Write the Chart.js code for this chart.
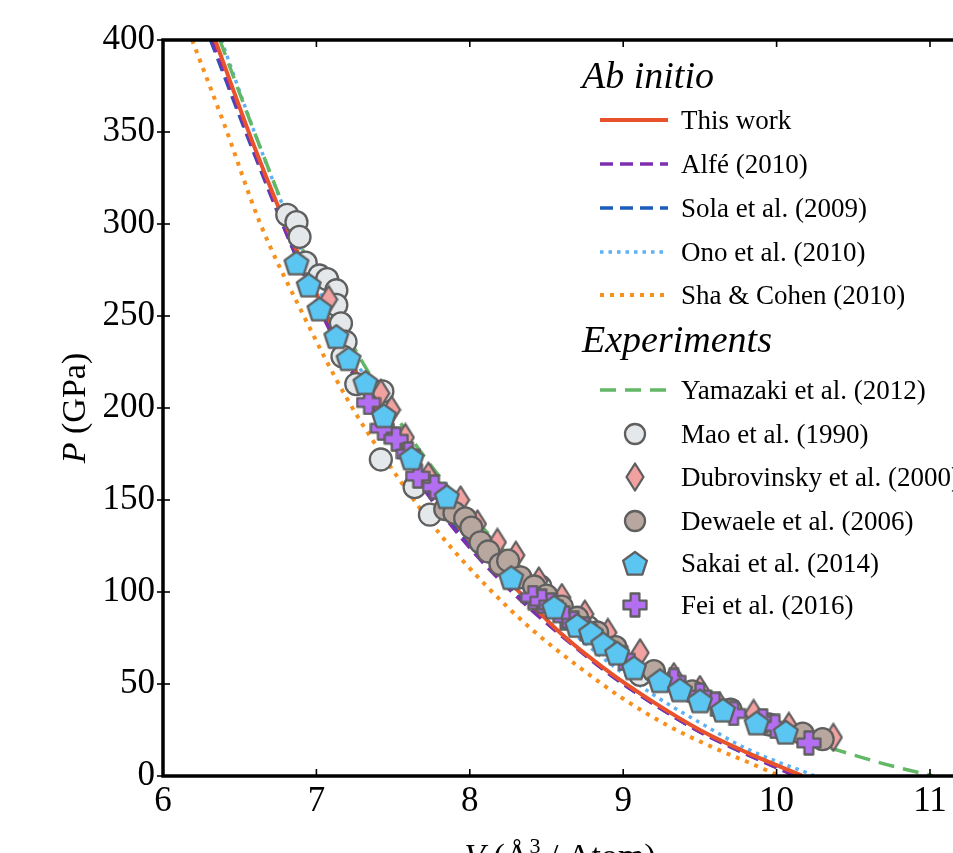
<!DOCTYPE html>
<html>
<head>
<meta charset="utf-8">
<script src="https://cdn.jsdelivr.net/npm/chart.js@4.4.1/dist/chart.umd.min.js"></script>
<style>
  html, body { margin: 0; padding: 0; background: #fff; }
  #frame { width: 953px; height: 853px; overflow: hidden; position: relative; }
  #box { width: 1020px; height: 880px; position: absolute; left: 0; top: 0; }
</style>
</head>
<body>
<div id="frame"><div id="box"><canvas id="c"></canvas></div></div>
<script>
const serif = "'Liberation Serif', 'Times New Roman', serif";

// --- ab initio curves: V (Å^3/atom), P (GPa)
const thisWorkV = [6.34, 6.6, 6.86, 7.1, 7.4, 7.7, 8.0, 8.3, 8.6, 8.9, 9.2, 9.5, 9.8, 10.17];
const thisWorkP = [400, 341, 288, 245, 199, 161, 128, 102, 77, 57, 40, 25, 13, 0];

const alfeV = [6.32, 6.6, 6.86, 7.1, 7.4, 7.7, 8.0, 8.3, 8.6, 8.9, 9.2, 9.5, 9.8, 10.12];
const alfeP = [400, 338, 284, 240, 195, 156, 124, 98, 76, 56, 39, 24, 12, 0];

const solaV = [6.31, 6.6, 6.86, 7.1, 7.4, 7.7, 8.0, 8.3, 8.6, 8.9, 9.2, 9.5, 9.8, 10.14];
const solaP = [400, 337, 284, 241, 197, 158, 126, 100, 77, 56, 39, 24, 12, 0];

const onoV = [6.38, 6.6, 6.86, 7.1, 7.4, 7.7, 8.0, 8.3, 8.6, 8.9, 9.2, 9.5, 9.8, 10.25];
const onoP = [400, 349, 294, 250, 205, 166, 134, 106, 83, 62, 44, 29, 15, 0];

const shaV = [6.19, 6.4, 6.63, 6.9, 7.2, 7.5, 7.8, 8.1, 8.4, 8.7, 9.0, 9.3, 9.6, 9.8, 10.02];
const shaP = [400, 354, 301, 253, 205, 166, 132, 104, 80, 60, 42, 27, 15, 8, 0];

// --- experiments
const yamazakiV = [6.37, 6.6, 6.85, 7.1, 7.4, 7.7, 8.0, 8.3, 8.6, 8.9, 9.2, 9.5, 9.8, 10.1, 10.4, 10.7, 11.02];
const yamazakiP = [400, 349, 297, 255, 211, 174, 143, 116, 94, 74, 58, 44, 33, 22, 14, 6.6, 0];

const maoV = [6.81, 6.87, 6.89, 6.93, 7.02, 7.07, 7.13, 7.13, 7.16, 7.19, 7.17, 7.26, 7.43, 7.42, 7.64, 7.74, 8.46, 8.77, 9.11];
const maoP = [305, 301, 293, 279, 272, 270, 264, 256, 246, 236, 228, 213, 209, 172, 157, 142, 103, 81, 55];

const dubroV = [7.08, 7.42, 7.49, 7.58, 7.73, 7.88, 7.94, 8.05, 8.18, 8.3, 8.45, 8.6, 8.75, 8.9, 9.11, 9.33, 9.5, 9.63, 9.85, 10.08, 10.37];
const dubroP = [259, 208, 199, 184, 163, 145, 150, 137, 127, 120, 106, 97, 88, 78, 67, 54, 47, 38, 34, 27, 21];

const dewaeleV = [7.84, 7.9, 7.97, 8.01, 8.07, 8.12, 8.2, 8.25, 8.33, 8.42, 8.5, 8.6, 8.7, 8.83, 8.95, 9.2, 9.45, 9.7, 9.95, 10.17, 10.3];
const dewaeleP = [145, 143, 140, 135, 127, 122, 115, 117, 108, 103, 98, 92, 86, 78, 70, 57, 46, 36, 28, 23, 20];

const sakaiV = [6.87, 6.95, 7.02, 7.13, 7.21, 7.32, 7.44, 7.62, 7.85, 8.27, 8.55, 8.7, 8.79, 8.87, 8.96, 9.07, 9.24, 9.37, 9.5, 9.65, 9.87, 10.06];
const sakaiP = [279, 267, 254, 239, 227, 214, 196, 173, 152, 108, 92, 82, 78, 72, 67, 59, 52, 47, 41, 36, 29, 24];

const feiV = [7.34, 7.43, 7.52, 7.6, 7.66, 7.77, 8.41, 8.47, 8.53, 8.62, 8.68, 8.75, 9.0, 9.33, 9.5, 9.6, 9.72, 9.91, 9.99, 10.21];
const feiP = [203, 189, 183, 175, 163, 157, 97, 95, 93, 86, 83, 80, 64, 52, 44, 39, 34, 30, 27, 18];

const xTicks = [6, 7, 8, 9, 10, 11];
const yTicks = [0, 50, 100, 150, 200, 250, 300, 350, 400];

function pts(vs, ps) {
  return vs.map((v, i) => ({ x: v, y: ps[i] }));
}

const edge = '#5f5f5f';

// marker pictures for the shapes Chart.js does not have
function marker(w, h, path, fill) {
  const c = document.createElement('canvas');
  c.width = w; c.height = h;
  const g = c.getContext('2d');
  g.beginPath();
  path(g, w, h);
  g.closePath();
  g.fillStyle = fill;
  g.fill();
  g.lineWidth = 2.3;
  g.lineJoin = 'round';
  g.strokeStyle = edge;
  g.stroke();
  return c;
}

const diamond = marker(20, 30, (g, w, h) => {
  g.moveTo(w / 2, 1.5); g.lineTo(w - 1.5, h / 2); g.lineTo(w / 2, h - 1.5); g.lineTo(1.5, h / 2);
}, '#f2a1a1');

const pentagon = marker(28, 28, (g, w, h) => {
  const r = 12.5;
  for (let k = 0; k < 5; k++) {
    const a = (-90 + 72 * k) * Math.PI / 180;
    const px = w / 2 + r * Math.cos(a), py = h / 2 + 1.5 + r * Math.sin(a);
    if (k === 0) g.moveTo(px, py); else g.lineTo(px, py);
  }
}, '#5cc6f3');

const plus = marker(26, 26, (g, w, h) => {
  const c = w / 2, t = 4.4, L = 11.5;
  const p = [[-t, -L], [t, -L], [t, -t], [L, -t], [L, t], [t, t], [t, L], [-t, L], [-t, t], [-L, t], [-L, -t], [-t, -t]];
  p.forEach(([dx, dy], i) => { if (i === 0) g.moveTo(c + dx, c + dy); else g.lineTo(c + dx, c + dy); });
}, '#b46ef2');

function curve(label, vs, ps, color, width, dash, order) {
  return {
    label, data: pts(vs, ps), showLine: true, borderColor: color, backgroundColor: color,
    borderWidth: width, borderDash: dash, pointRadius: 0, cubicInterpolationMode: 'monotone',
    order, group: 'ab'
  };
}

function scatterSet(label, vs, ps, style, fill, order) {
  return {
    label, data: pts(vs, ps), showLine: false, pointStyle: style, pointRadius: 11,
    backgroundColor: fill, borderColor: edge, borderWidth: 2.3, order, group: 'exp'
  };
}

const datasets = [
  curve('This work', thisWorkV, thisWorkP, '#e9532b', 4, [], 5),
  curve('Alfé (2010)', alfeV, alfeP, '#7e2fae', 3.5, [13, 7], 6),
  curve('Sola et al. (2009)', solaV, solaP, '#1d5cb8', 3.5, [13, 7], 7),
  curve('Ono et al. (2010)', onoV, onoP, '#5db0f4', 3.5, [3.5, 5], 9),
  curve('Sha & Cohen (2010)', shaV, shaP, '#f7901c', 4, [4, 6], 10),
  Object.assign(curve('Yamazaki et al. (2012)', yamazakiV, yamazakiP, '#62b865', 3.5, [16, 9], 8), { group: 'exp' }),
  scatterSet('Mao et al. (1990)', maoV, maoP, 'circle', '#e5e8ea', 4),
  scatterSet('Dubrovinsky et al. (2000)', dubroV, dubroP, diamond, '#f2a1a1', 3),
  scatterSet('Dewaele et al. (2006)', dewaeleV, dewaeleP, 'circle', '#b8a79e', 2),
  scatterSet('Sakai et al. (2014)', sakaiV, sakaiP, pentagon, '#5cc6f3', 0),
  scatterSet('Fei et al. (2016)', feiV, feiP, plus, '#b46ef2', 1)
];

function line(ctx, x1, y1, x2, y2) {
  ctx.beginPath(); ctx.moveTo(x1, y1); ctx.lineTo(x2, y2); ctx.stroke();
}

// axis box with the small ticks
const framePlugin = {
  id: 'framePlugin',
  afterDatasetsDraw(chart) {
    const { ctx, chartArea: a, scales: { x, y } } = chart;
    ctx.save();
    ctx.strokeStyle = '#000';
    ctx.lineWidth = 1.6;
    xTicks.forEach(v => {
      const px = x.getPixelForValue(v);
      line(ctx, px, a.bottom, px, a.bottom - 7);
      line(ctx, px, a.top, px, a.top + 7);
    });
    yTicks.forEach(v => {
      const py = y.getPixelForValue(v);
      line(ctx, a.left - 6, py, a.left + 7, py);
      line(ctx, a.right, py, a.right - 7, py);
    });
    ctx.lineWidth = 3.5;
    ctx.strokeRect(a.left, a.top, a.right - a.left, a.bottom - a.top);
    ctx.restore();
  },
  afterDraw(chart) {
    const { ctx } = chart;
    ctx.save();
    ctx.fillStyle = '#000';
    ctx.textBaseline = 'alphabetic';

    // y title
    ctx.save();
    ctx.translate(85, 408);
    ctx.rotate(-Math.PI / 2);
    ctx.font = 'italic 34px ' + serif;
    const wP = ctx.measureText('P').width;
    ctx.font = '34px ' + serif;
    const wRest = ctx.measureText(' (GPa)').width;
    let sx = -(wP + wRest) / 2;
    ctx.font = 'italic 34px ' + serif;
    ctx.fillText('P', sx, 0);
    ctx.font = '34px ' + serif;
    ctx.fillText(' (GPa)', sx + wP, 0);
    ctx.restore();

    // x title
    const parts = [
      ['V', 'italic 34px ', 0], [' (Å', '34px ', 0], ['3', '22px ', -14], [' / Atom)', '34px ', 0]
    ];
    let total = 0;
    parts.forEach(p => { ctx.font = p[1] + serif; total += ctx.measureText(p[0]).width; });
    let tx = 560 - total / 2;
    parts.forEach(p => {
      ctx.font = p[1] + serif;
      ctx.fillText(p[0], tx, 867 + p[2]);
      tx += ctx.measureText(p[0]).width;
    });

    // legend
    ctx.font = 'italic 38px ' + serif;
    ctx.fillText('Ab initio', 582, 88);
    ctx.fillText('Experiments', 582, 352);
    const rowsAb = [120, 164, 208, 252, 295];
    const rowsExp = [390, 434, 477, 521, 563, 605];
    let ia = 0, ie = 0;
    chart.data.datasets.forEach(ds => {
      const ry = ds.group === 'ab' ? rowsAb[ia++] : rowsExp[ie++];
      if (ds.showLine) {
        ctx.save();
        ctx.strokeStyle = ds.borderColor;
        ctx.lineWidth = ds.borderWidth;
        ctx.setLineDash(ds.borderDash);
        line(ctx, 600, ry, 668, ry);
        ctx.restore();
      } else if (typeof ds.pointStyle === 'string') {
        ctx.beginPath();
        ctx.arc(635, ry, 10, 0, Math.PI * 2);
        ctx.fillStyle = ds.backgroundColor;
        ctx.fill();
        ctx.lineWidth = 2.3;
        ctx.strokeStyle = edge;
        ctx.stroke();
      } else {
        const im = ds.pointStyle;
        ctx.drawImage(im, 635 - im.width / 2, ry - im.height / 2);
      }
      ctx.fillStyle = '#000';
      ctx.font = '27px ' + serif;
      ctx.fillText(ds.label, 681, ry + 9);
    });
    ctx.restore();
  }
};

new Chart(document.getElementById('c'), {
  type: 'scatter',
  data: { datasets },
  options: {
    responsive: true,
    maintainAspectRatio: false,
    animation: false,
    layout: { padding: { top: 40, right: 8, bottom: 0, left: 0 } },
    plugins: { legend: { display: false }, tooltip: { enabled: false } },
    scales: {
      x: {
        type: 'linear', min: 6, max: 11.5,
        afterFit: s => { s.height = 104; },
        grid: { display: false, drawTicks: false },
        border: { display: false },
        ticks: {
          stepSize: 1, includeBounds: false, padding: 5, color: '#000',
          font: { family: serif, size: 35 }
        }
      },
      y: {
        type: 'linear', min: 0, max: 400,
        afterFit: s => { s.width = 163; },
        grid: { display: false, drawTicks: false },
        border: { display: false },
        ticks: {
          stepSize: 50, padding: 8, color: '#000',
          font: { family: serif, size: 35 }
        }
      }
    }
  },
  plugins: [framePlugin]
});
</script>
</body>
</html>
